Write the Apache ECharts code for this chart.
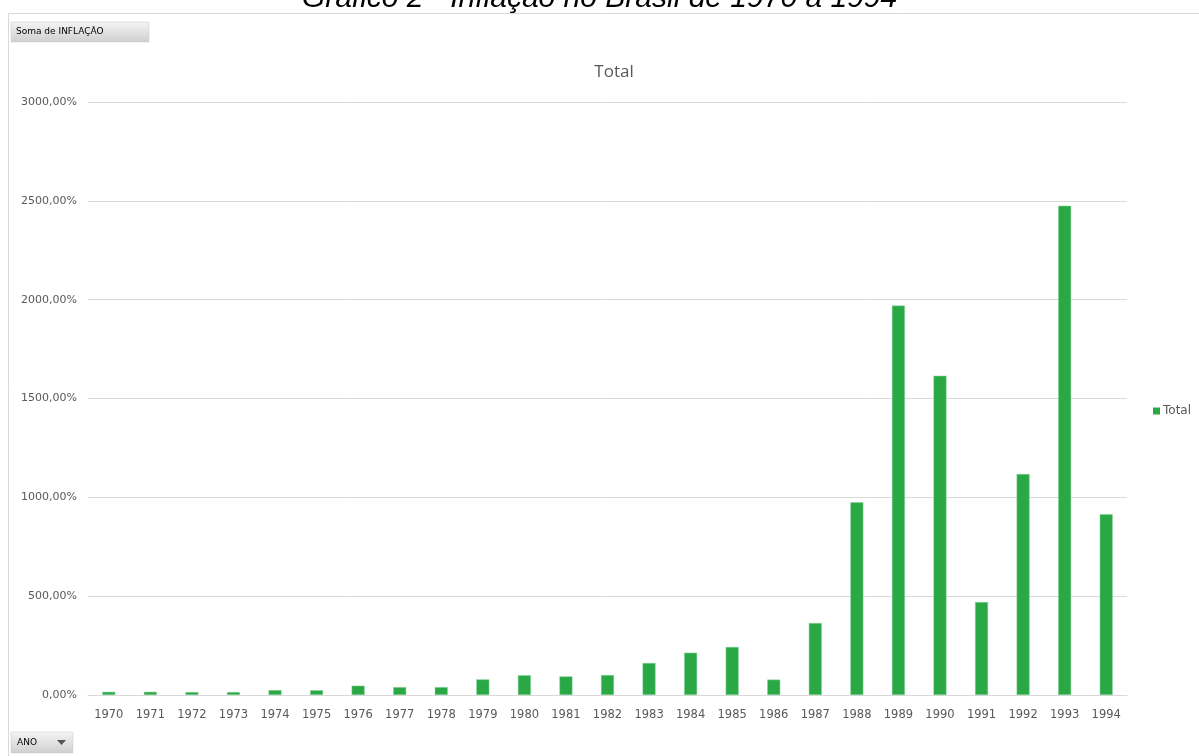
<!DOCTYPE html>
<html>
<head>
<meta charset="utf-8">
<script src="https://cdn.jsdelivr.net/npm/echarts@6/dist/echarts.min.js"></script>
<style>
html,body{margin:0;padding:0;background:#fff;}
#chart{width:1199px;height:756px;}
</style>
</head>
<body>
<div id="chart"></div>
<script>
const categories = ['1970','1971','1972','1973','1974','1975','1976','1977','1978','1979','1980','1981','1982','1983','1984','1985','1986','1987','1988','1989','1990','1991','1992','1993','1994'];
const inflacao = [16, 16, 15, 15, 25, 24, 47, 40, 40, 79, 100, 94, 101, 162, 214, 243, 78, 364, 975, 1970, 1615, 470, 1118, 2475, 915];
const yTicks = { min: 0, max: 3000, interval: 500 };
const seriesName = 'Total';
const pageTitle = 'Gráfico 2 - Inflação no Brasil de 1970 a 1994';
const fieldButton = 'Soma de INFLAÇÃO';
const axisButton = 'ANO';

const chart = echarts.init(document.getElementById('chart'), null, {renderer: 'canvas'});
const font = '"DejaVu Sans", "Open Sans", sans-serif';
const font2 = '"Open Sans", "Liberation Sans", sans-serif';
const btnFill = new echarts.graphic.LinearGradient(0, 0, 0, 1, [
  {offset: 0, color: '#f4f4f4'}, {offset: 1, color: '#cfcfcf'}
]);
chart.setOption({
  animation: false,
  backgroundColor: '#ffffff',
  title: {
    text: seriesName,
    left: 609, top: 59, textAlign: 'center',
    textStyle: {fontFamily: font2, fontSize: 17, fontWeight: 'normal', color: '#595959'}
  },
  legend: {
    orient: 'vertical', left: 1148, top: 400,
    itemWidth: 7, itemHeight: 7, itemGap: 4,
    icon: 'rect',
    itemStyle: {borderWidth: 0, color: '#2aa845'},
    textStyle: {fontFamily: font, fontSize: 12, color: '#595959', padding: [0,0,0,-2]},
    data: [seriesName]
  },
  grid: {left: 88, right: 72, top: 102, bottom: 61, containLabel: false},
  xAxis: {
    type: 'category', data: categories,
    axisLine: {lineStyle: {color: '#d9d9d9', width: 1}},
    axisTick: {show: false},
    axisLabel: {fontFamily: font, fontSize: 11.5, color: '#595959', margin: 14, interval: 0}
  },
  yAxis: {
    type: 'value', min: yTicks.min, max: yTicks.max, interval: yTicks.interval,
    axisLine: {show: false}, axisTick: {show: false},
    splitLine: {lineStyle: {color: '#d9d9d9', width: 1}},
    axisLabel: {fontFamily: font, fontSize: 11, color: '#595959', margin: 11,
      formatter: v => v + ',00%'}
  },
  series: [{
    name: seriesName, type: 'bar', data: inflacao,
    barWidth: 13,
    itemStyle: {color: '#2aa845', borderColor: '#8fd4a0', borderWidth: 0.5}
  }],
  graphic: [
    {type: 'text', left: 'center', top: -16, style: {text: pageTitle, font: 'italic 30px "Liberation Sans", Arial, sans-serif', fill: '#000'}},
    {type: 'line', shape: {x1: 8.5, y1: 13.5, x2: 1199, y2: 13.5}, style: {stroke: '#d9d9d9', lineWidth: 1}},
    {type: 'line', shape: {x1: 8.5, y1: 13.5, x2: 8.5, y2: 756}, style: {stroke: '#d9d9d9', lineWidth: 1}},
    {type: 'rect', shape: {x: 11, y: 22, width: 138, height: 20}, style: {fill: btnFill, stroke: '#c8c8c8', lineWidth: 0.5}},
    {type: 'text', x: 16, y: 32, style: {text: fieldButton, font: '9px ' + font, fill: '#000', textVerticalAlign: 'middle'}},
    {type: 'rect', shape: {x: 11, y: 732, width: 62, height: 21}, style: {fill: btnFill, stroke: '#c8c8c8', lineWidth: 0.5}},
    {type: 'text', x: 17, y: 743, style: {text: axisButton, font: '9px ' + font, fill: '#000', textVerticalAlign: 'middle'}},
    {type: 'polygon', shape: {points: [[57, 740], [66, 740], [61.5, 745]]}, style: {fill: '#555'}}
  ]
});
</script>
</body>
</html>
